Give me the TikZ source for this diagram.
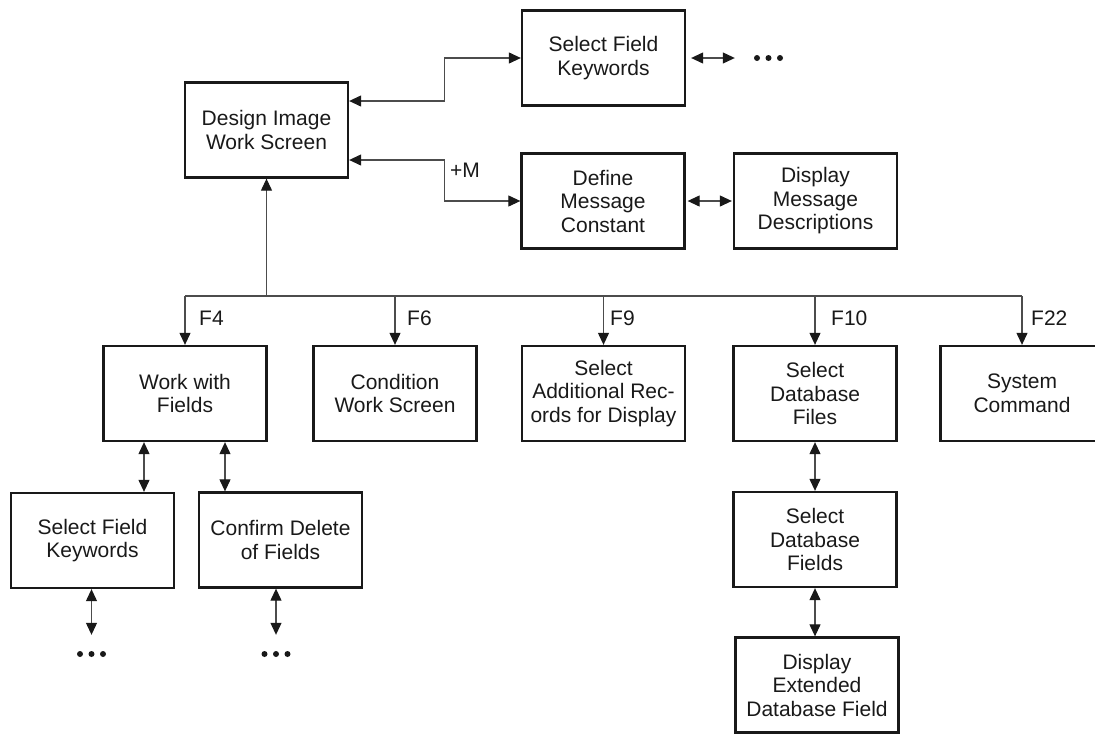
\documentclass[tikz,border=0pt]{standalone}
\usepackage{fontspec}
\setmainfont{Liberation Sans}
\usetikzlibrary{arrows.meta}
\begin{document}
\begin{tikzpicture}[x=1pt,y=-1pt,
  box/.style={draw=black!90, line width=2.3pt, minimum width=163pt, minimum height=95pt,
    align=center, inner sep=2pt, font=\fontsize{21}{23.5}\selectfont, text=black!90},
  lbl/.style={inner sep=0pt, font=\fontsize{21}{23.5}\selectfont, text=black!90},
  conn/.style={line width=1.1pt, draw=black!70},
  arr/.style={conn, -{Triangle[length=12pt,width=11pt,color=black!90]}},
  biarr/.style={conn, {Triangle[length=12pt,width=11pt,color=black!90]}-{Triangle[length=12pt,width=11pt,color=black!90]}},
  dots/.style={minimum width=36pt, minimum height=8pt, inner sep=0pt,
    path picture={\fill[black!90] (path picture bounding box.center) circle (3pt)
      ++(11.5pt,0pt) circle (3pt) ++(-23pt,0pt) circle (3pt);}}
]
\useasboundingbox (0,0) rectangle (1095,734);

\node[box] (design) at (266.5,130) {Design Image\\Work Screen};
\node[box] (sfk1) at (603.5,58) {Select Field\\Keywords};
\node[box] (define) at (603,201) {Define\\Message\\Constant};
\node[box] (dispmsg) at (815.5,201) {Display\\Message\\Descriptions};
\node[box] (work) at (185,393.5) {Work with\\Fields};
\node[box] (cond) at (395,393.5) {Condition\\Work Screen};
\node[box] (seladd) at (603.5,393.5) {Select\\Additional Rec-\\ords for Display};
\node[box] (seldbf) at (815,393.5) {Select\\Database\\Files};
\node[box] (syscmd) at (1022,393.5) {System\\Command};
\node[box] (sfk2) at (92.5,540.5) {Select Field\\Keywords};
\node[box] (confirm) at (280.5,540) {Confirm Delete\\of Fields};
\node[box] (seldbfld) at (815,539.5) {Select\\Database\\Fields};
\node[box] (dispext) at (817,685) {Display\\Extended\\Database Field};

\node[dots] (dots1) at (768.5,58) {};
\node[dots] (dots2) at (91.5,654) {};
\node[dots] (dots3) at (276,654) {};

% top connectors
\draw[biarr] ([yshift=29pt]design.east) -- ++(95,0) |- (sfk1.west);
\draw[biarr] ([yshift=-30pt]design.east) -- ++(95,0) |- (define.west);
\node[lbl, anchor=west] at (450,170) {+M};
\draw[biarr] ([xshift=5pt]sfk1.east) -- ([xshift=-15.5pt]dots1.west);
\draw[biarr] ([xshift=2pt]define.east) -- ([xshift=-1pt]dispmsg.west);

% bus
\coordinate (bus) at (266.5,296);
\draw[arr] (bus) -- (design.south);
\draw[conn] (work.north |- bus) -- (syscmd.north |- bus);
\foreach \n in {work,cond,seladd,seldbf,syscmd}
  \draw[arr] (\n.north |- bus) -- (\n.north);
\node[lbl, anchor=west] at (199,318) {F4};
\node[lbl, anchor=west] at (407,318) {F6};
\node[lbl, anchor=west] at (610,318) {F9};
\node[lbl, anchor=west] at (831,318) {F10};
\node[lbl, anchor=west] at (1031,318) {F22};

% lower connectors
\draw[biarr] ([xshift=-41pt]work.south) -- ([xshift=-41pt]work.south |- sfk2.north);
\draw[biarr] ([xshift=40pt]work.south) -- ([xshift=40pt]work.south |- confirm.north);
\draw[biarr, shorten >=15pt] (sfk2.south -| dots2) -- (dots2.north);
\draw[biarr, shorten >=15pt] (confirm.south -| dots3) -- (dots3.north);
\draw[biarr] (seldbf.south) -- (seldbfld.north);
\draw[biarr] (seldbfld.south) -- (seldbfld.south |- dispext.north);
\end{tikzpicture}
\end{document}
